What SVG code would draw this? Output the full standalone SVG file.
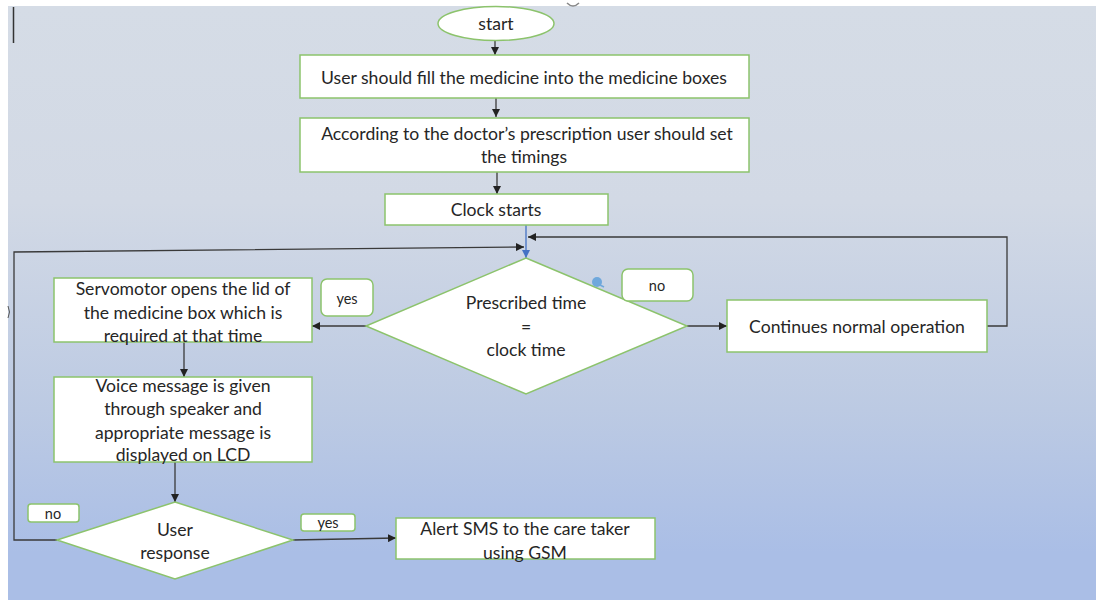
<svg xmlns="http://www.w3.org/2000/svg" width="1096" height="601" viewBox="0 0 1096 601">
<defs>
<linearGradient id="bg" x1="0" y1="0" x2="0" y2="1">
<stop offset="0" stop-color="#d5dce6"/>
<stop offset="0.33" stop-color="#d2d9e5"/>
<stop offset="0.68" stop-color="#bccae3"/>
<stop offset="0.92" stop-color="#aabee6"/>
<stop offset="1" stop-color="#aabee6"/>
</linearGradient>
<marker id="ah" viewBox="0 0 10 10" refX="10" refY="5" markerWidth="8" markerHeight="8" markerUnits="userSpaceOnUse" orient="auto">
<path d="M0,0 L10,5 L0,10 z" fill="#222"/>
</marker>
<marker id="ahb" viewBox="0 0 10 10" refX="10" refY="5" markerWidth="8" markerHeight="8" markerUnits="userSpaceOnUse" orient="auto">
<path d="M0,0 L10,5 L0,10 z" fill="#4472c4"/>
</marker>
</defs>
<style>
.box{fill:#fff;stroke:#8cc36c;stroke-width:1.5}
.lbl{fill:#fff;stroke:#8cc36c;stroke-width:1.5}
.t{font-family:Lato,"Liberation Sans",sans-serif;font-size:17.6px;fill:#262626;text-anchor:middle;dominant-baseline:central}
.s{font-family:Lato,"Liberation Sans",sans-serif;font-size:14.5px;fill:#262626;text-anchor:middle;dominant-baseline:central}
.c{fill:none;stroke:#3a3a3a;stroke-width:1.3}
</style>
<rect x="0" y="0" width="1096" height="601" fill="#fff"/>
<rect x="8" y="6" width="1088" height="594" fill="url(#bg)"/>
<line x1="13.5" y1="7" x2="13.5" y2="43" stroke="#333" stroke-width="1.5"/>
<path d="M567,3 Q573,9 579,3" fill="none" stroke="#888" stroke-width="1.5"/>
<path d="M8,306 Q11,312 8,318" fill="none" stroke="#555" stroke-width="1"/>

<g id="connectors">
<path class="c" d="M495,41 V55" marker-end="url(#ah)"/>
<path class="c" d="M496,98 V117" marker-end="url(#ah)"/>
<path class="c" d="M497,172 V194" marker-end="url(#ah)"/>
<path d="M526,225 V258" fill="none" stroke="#4472c4" stroke-width="1.3" marker-end="url(#ahb)"/>
<path class="c" d="M57,540 H14 V252 L524,247" marker-end="url(#ah)"/>
<path class="c" d="M987,326 H1007 V237 H528" marker-end="url(#ah)"/>
<path class="c" d="M687,326 H727" marker-end="url(#ah)"/>
<path class="c" d="M366,326 H312" marker-end="url(#ah)"/>
<path class="c" d="M184,342 V377" marker-end="url(#ah)"/>
<path class="c" d="M175,462 V502" marker-end="url(#ah)"/>
<path class="c" d="M293,540 L396,538" marker-end="url(#ah)"/>
</g>

<g id="start">
<ellipse class="box" cx="496" cy="23.5" rx="58" ry="17"/>
<text class="t" x="496" y="23">start</text>
</g>
<g id="fill">
<rect class="box" x="300" y="55" width="449" height="43"/>
<text class="t" x="524" y="77">User should fill the medicine into the medicine boxes</text>
</g>
<g id="set-timings">
<rect class="box" x="300" y="118" width="449" height="54"/>
<text class="t" x="527" y="133">According to the doctor’s prescription user should set</text>
<text class="t" x="524" y="156">the timings</text>
</g>
<g id="clock">
<rect class="box" x="385" y="194" width="223" height="31"/>
<text class="t" x="496" y="209">Clock starts</text>
</g>
<g id="decision">
<polygon class="box" points="526,258 687,326 526,394 366,326"/>
<text class="t" x="526" y="302">Prescribed time</text>
<text class="t" x="526" y="326">=</text>
<text class="t" x="526" y="349">clock time</text>
</g>
<g id="continue">
<rect class="box" x="727" y="300" width="260" height="52"/>
<text class="t" x="857" y="326">Continues normal operation</text>
</g>
<g id="yes1">
<rect class="lbl" x="321" y="279" width="52" height="37" rx="6"/>
<text class="s" x="347" y="298">yes</text>
</g>
<g id="no1">
<rect class="lbl" x="622" y="269" width="71" height="32" rx="6"/>
<text class="s" x="657" y="285">no</text>
</g>
<g id="icon">
<circle cx="597" cy="282" r="5" fill="#6fa8dc"/>
<path d="M600,285 L604,287" stroke="#6fa8dc" stroke-width="1.5"/>
</g>
<g id="servo">
<rect class="box" x="54" y="278" width="258" height="64"/>
<text class="t" x="183" y="288">Servomotor opens the lid of</text>
<text class="t" x="183" y="312">the medicine box which is</text>
<text class="t" x="183" y="335">required at that time</text>
</g>
<g id="voice">
<rect class="box" x="54" y="377" width="258" height="85"/>
<text class="t" x="183" y="385">Voice message is given</text>
<text class="t" x="183" y="408">through speaker and</text>
<text class="t" x="183" y="432">appropriate message is</text>
<text class="t" x="183" y="454">displayed on LCD</text>
</g>
<g id="user-response">
<polygon class="box" points="175,502 293,540 175,579 57,540"/>
<text class="t" x="175" y="529">User</text>
<text class="t" x="175" y="552">response</text>
</g>
<g id="no2">
<rect class="lbl" x="28" y="504" width="51" height="18" rx="3"/>
<text class="s" x="53" y="513">no</text>
</g>
<g id="yes2">
<rect class="lbl" x="301" y="514" width="54" height="17" rx="3"/>
<text class="s" x="328" y="522">yes</text>
</g>
<g id="alert">
<rect class="box" x="396" y="518" width="259" height="41"/>
<text class="t" x="525" y="528">Alert SMS to the care taker</text>
<text class="t" x="525" y="552">using GSM</text>
</g>
</svg>
